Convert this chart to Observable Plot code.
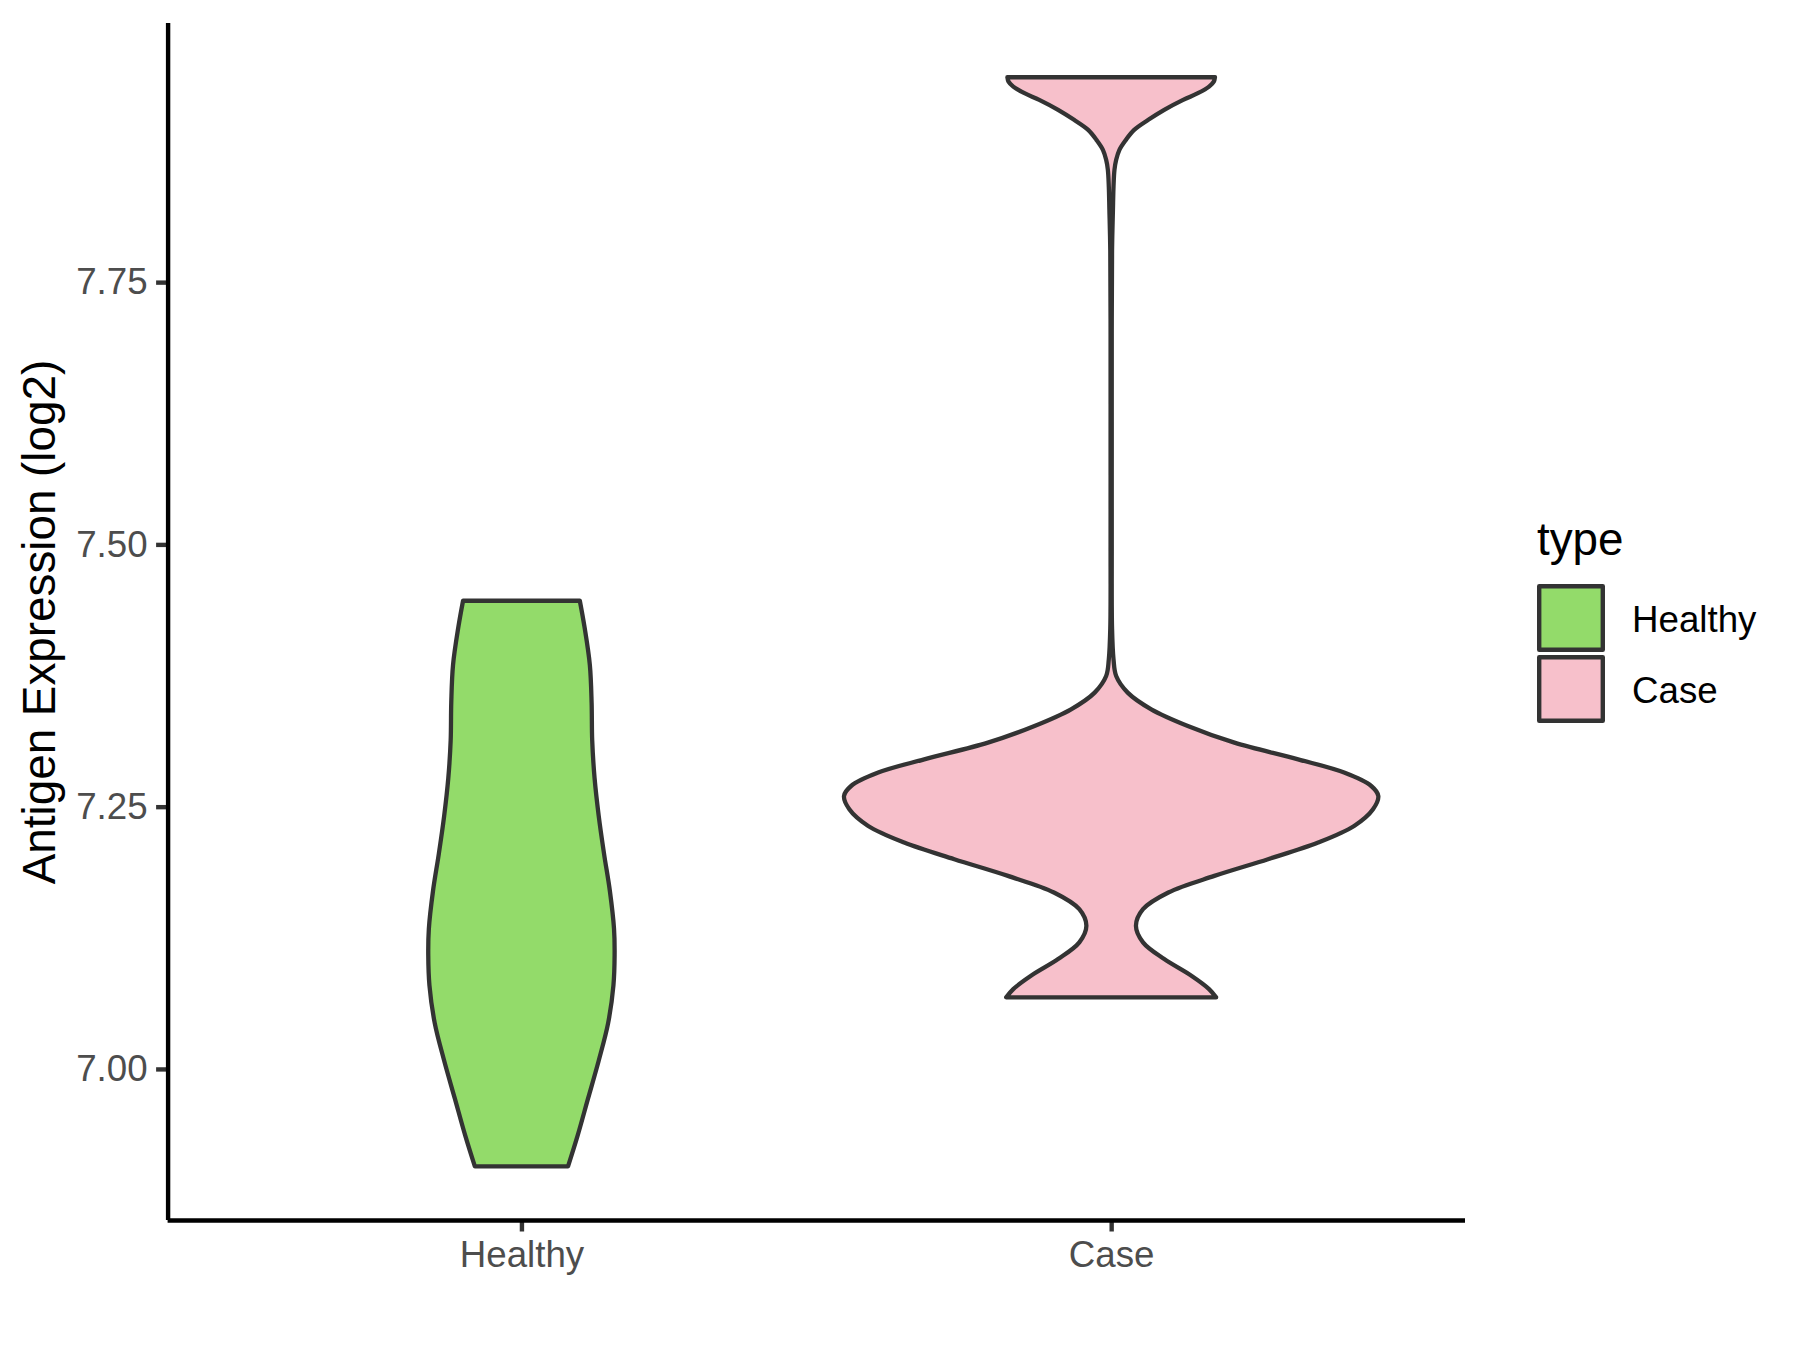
<!DOCTYPE html>
<html><head><meta charset="utf-8">
<script src="https://cdn.jsdelivr.net/npm/d3@7"></script>
<script src="https://cdn.jsdelivr.net/npm/@observablehq/plot@0.6"></script>
<style>
body{margin:0;background:#fff;}
#wrap{position:relative;width:1800px;height:1350px;font-family:"Liberation Sans",Arial,sans-serif;}
</style></head><body><div id="wrap"></div>
<script>
const categories = ["Healthy", "Case"];
const fills = ["#93DB6A", "#F7C0CB"];
const yTicks = [7.00, 7.25, 7.50, 7.75];
const yLabel = "Antigen Expression (log2)";
const legendTitle = "type";

// violin outlines: y value and half width (in category units)
const healthyY = [6.9071, 6.9359, 6.9719, 7.0078, 7.0437, 7.0797, 7.1085, 7.1336, 7.1695, 7.2054, 7.2414, 7.2773, 7.3132, 7.3492, 7.3851, 7.4211, 7.4463];
const healthyHalfWidth = [0.079, 0.095, 0.113, 0.131, 0.147, 0.156, 0.158, 0.157, 0.150, 0.140, 0.131, 0.124, 0.120, 0.119, 0.116, 0.107, 0.099];

const caseY = [7.0682, 7.0761, 7.0888, 7.1047, 7.1206, 7.1364, 7.1523, 7.1682, 7.1840, 7.1999, 7.2158, 7.2316, 7.2475, 7.2602, 7.2697, 7.2825, 7.2951, 7.3110, 7.3269, 7.3428, 7.3587, 7.3745, 7.3904, 7.42, 7.50, 7.60, 7.70, 7.78, 7.8190, 7.8411, 7.8570, 7.8666, 7.8761, 7.8856, 7.8951, 7.9047, 7.9142, 7.9237, 7.9301, 7.9364, 7.9411, 7.9453];
const caseHalfWidth = [0.178, 0.166, 0.136, 0.090, 0.054, 0.042, 0.054, 0.097, 0.175, 0.266, 0.351, 0.412, 0.444, 0.453, 0.441, 0.395, 0.317, 0.209, 0.130, 0.068, 0.028, 0.0085, 0.004, 0.0015, 0.001, 0.001, 0.001, 0.0015, 0.003, 0.004, 0.0056, 0.0085, 0.014, 0.025, 0.039, 0.063, 0.090, 0.122, 0.147, 0.166, 0.174, 0.176];

const rows = [];
function addViolin(cat, ys, ws) {
  const pos = categories.indexOf(cat) + 1;
  ys.forEach((y, i) => rows.push({type: cat, y, x1: pos - ws[i], x2: pos + ws[i]}));
}
addViolin("Healthy", healthyY, healthyHalfWidth);
addViolin("Case", caseY, caseHalfWidth);

const yMin = 6.856, yMax = 7.997;
const tickSize = 11.5, tickPad = 9, lw = 4.4;

const chart = Plot.plot({
  width: 1800,
  height: 1350,
  marginLeft: 167.6,
  marginRight: 335,
  marginTop: 23,
  marginBottom: 130,
  style: {fontFamily: "'Liberation Sans', Arial, sans-serif", background: "white"},
  x: {domain: [0.4, 2.6], axis: null},
  y: {domain: [yMin, yMax], axis: null},
  color: {domain: categories, range: fills},
  marks: [
    Plot.areaX(rows, {y: "y", x1: "x1", x2: "x2", z: "type", fill: "type", stroke: "#333333", strokeWidth: 4.3, strokeLinejoin: "round", curve: "catmull-rom"}),
    Plot.axisY(yTicks, {tickSize, tickPadding: tickPad, tickFormat: d3.format(".2f"), fontSize: 36.7, fill: "#4D4D4D", stroke: "#333333", strokeWidth: lw, label: null}),
    Plot.axisX([1, 2], {tickSize, tickPadding: tickPad, tickFormat: d => categories[d - 1], fontSize: 36.7, fill: "#4D4D4D", stroke: "#333333", strokeWidth: lw, label: null}),
    Plot.ruleX([0.4], {stroke: "black", strokeWidth: lw}),
    Plot.ruleY([yMin], {stroke: "black", strokeWidth: lw}),
    Plot.text([yLabel], {frameAnchor: "left", textAnchor: "middle", rotate: -90, dx: -127.6, fontSize: 45.8, fill: "black", text: d => d})
  ]
});
document.getElementById("wrap").appendChild(chart);

// legend at the right
const leg = d3.select("#wrap").append("svg")
  .attr("width", 280).attr("height", 250)
  .style("position", "absolute").style("left", "1520px").style("top", "500px")
  .style("font-family", "'Liberation Sans', Arial, sans-serif");
leg.append("text").attr("x", 17).attr("y", 55).attr("font-size", 45.8).attr("fill", "black").text(legendTitle);
categories.forEach((c, i) => {
  leg.append("rect").attr("x", 19.2).attr("y", 86.2 + i * 71).attr("width", 63.6).attr("height", 63.6)
    .attr("fill", fills[i]).attr("stroke", "#333333").attr("stroke-width", lw).attr("stroke-linejoin", "round");
  leg.append("text").attr("x", 112).attr("y", 132 + i * 71).attr("font-size", 36.7).attr("fill", "black").text(c);
});
</script>
</body></html>
